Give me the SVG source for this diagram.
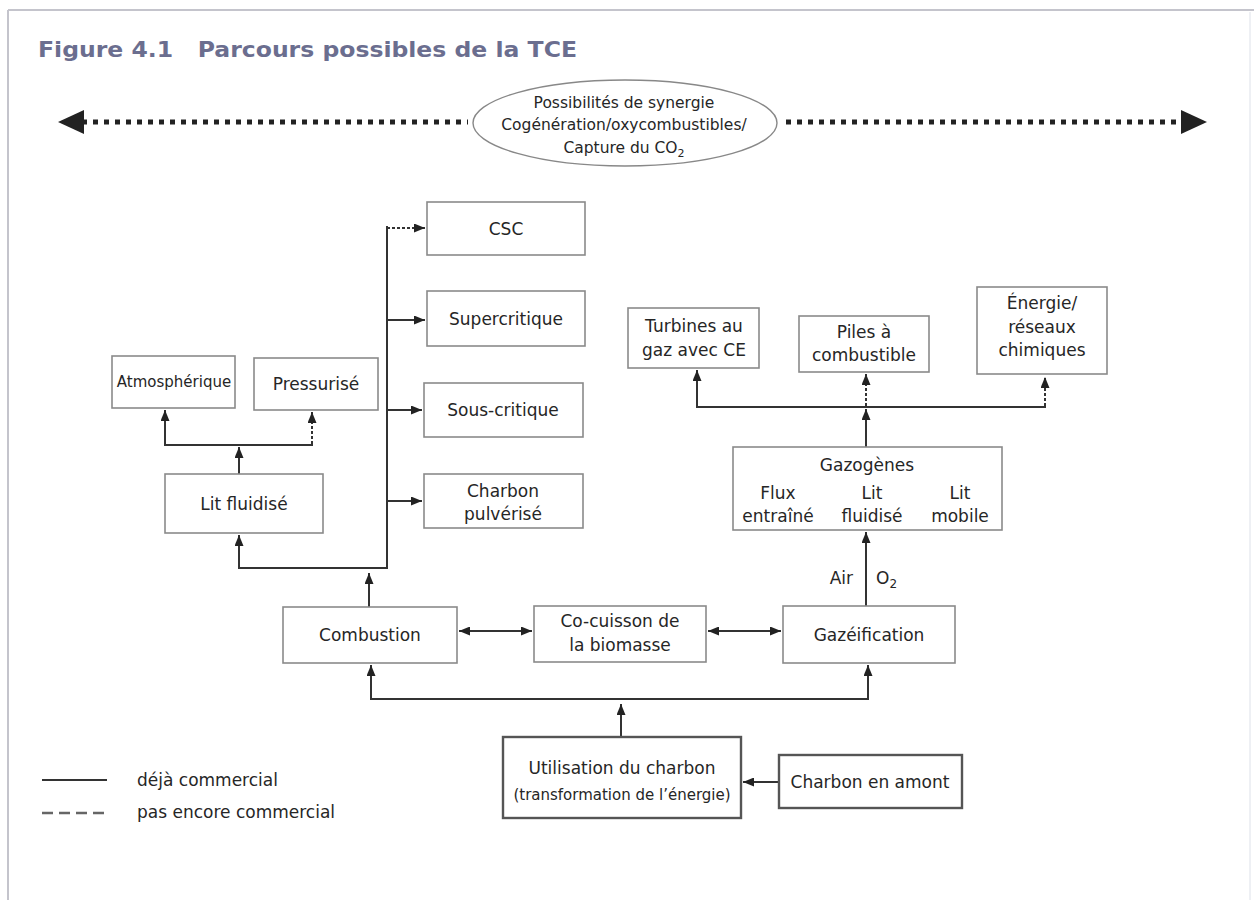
<svg xmlns="http://www.w3.org/2000/svg" width="1254" height="900" viewBox="0 0 1254 900">
<style>
.box{fill:#fff;stroke:#8a8a8a;stroke-width:1.6}
.boxd{fill:#fff;stroke:#555;stroke-width:2.4}
.t{font-family:"DejaVu Sans","Liberation Sans",sans-serif;font-size:17px;fill:#262626;text-anchor:middle}
.ts{font-size:15px}
.c{fill:none;stroke:#333;stroke-width:2}
.d{fill:none;stroke:#333;stroke-width:2;stroke-dasharray:3,2}
.dot{fill:none;stroke:#222;stroke-width:5;stroke-dasharray:5,6}
</style>
<defs>
<marker id="ah" markerUnits="userSpaceOnUse" markerWidth="11" markerHeight="9" viewBox="0 0 11 9" refX="11" refY="4.5" orient="auto-start-reverse">
<path d="M0,0 L11,4.5 L0,9 z" fill="#222"/>
</marker>
</defs>
<rect width="1254" height="900" fill="#fff"/>
<line x1="8" y1="10" x2="1254" y2="10" stroke="#c4c4cc" stroke-width="2"/>
<line x1="8" y1="10" x2="8" y2="900" stroke="#c4c4cc" stroke-width="2"/>
<line x1="1250" y1="12" x2="1250" y2="900" stroke="#eef0f4" stroke-width="2"/>
<text x="38" y="57" font-family="'DejaVu Sans','Liberation Sans',sans-serif" font-weight="bold" font-size="22" fill="#6b6e8f" textLength="539" lengthAdjust="spacingAndGlyphs" xml:space="preserve">Figure 4.1   Parcours possibles de la TCE</text>

<g id="synergie">
<ellipse cx="625" cy="123" rx="152" ry="43" fill="#fff" stroke="#888" stroke-width="1.4"/>
<text class="t" x="624" y="108" style="font-size:15.5px">Possibilités de synergie</text>
<text class="t" x="624" y="130" style="font-size:15.5px">Cogénération/oxycombustibles/</text>
<text class="t" x="624" y="153" style="font-size:15.5px">Capture du CO<tspan font-size="11" dy="4">2</tspan></text>
</g>

<g id="connectors">
<line class="dot" x1="82" y1="122" x2="468" y2="122"/>
<path d="M58,122 L84,110 L84,134 z" fill="#222"/>
<line class="dot" x1="786" y1="122" x2="1182" y2="122"/>
<path d="M1207,122 L1181,110 L1181,134 z" fill="#222"/>

<line class="c" x1="369" y1="607" x2="369" y2="573" marker-end="url(#ah)"/>
<polyline class="c" points="387,226 387,568 239,568 239,535" marker-end="url(#ah)"/>
<line class="d" x1="387" y1="228" x2="425" y2="228" marker-end="url(#ah)"/>
<line class="c" x1="387" y1="320" x2="425" y2="320" marker-end="url(#ah)"/>
<line class="c" x1="387" y1="410" x2="422" y2="410" marker-end="url(#ah)"/>
<line class="c" x1="387" y1="501" x2="422" y2="501" marker-end="url(#ah)"/>
<line class="c" x1="239" y1="474" x2="239" y2="447" marker-end="url(#ah)"/>
<line class="c" x1="164" y1="445" x2="313" y2="445"/>
<line class="c" x1="165" y1="446" x2="165" y2="410" marker-end="url(#ah)"/>
<line class="d" x1="312" y1="444" x2="312" y2="412" marker-end="url(#ah)"/>

<line class="c" x1="459" y1="631" x2="532" y2="631" marker-start="url(#ah)" marker-end="url(#ah)"/>
<line class="c" x1="708" y1="631" x2="781" y2="631" marker-start="url(#ah)" marker-end="url(#ah)"/>

<line class="c" x1="866" y1="606" x2="866" y2="532" marker-end="url(#ah)"/>
<line class="c" x1="866" y1="447" x2="866" y2="409" marker-end="url(#ah)"/>
<line class="c" x1="696" y1="407" x2="1046" y2="407"/>
<line class="c" x1="697" y1="408" x2="697" y2="370" marker-end="url(#ah)"/>
<line class="d" x1="866" y1="406" x2="866" y2="374" marker-end="url(#ah)"/>
<line class="d" x1="1045" y1="406" x2="1045" y2="377" marker-end="url(#ah)"/>

<line class="c" x1="621" y1="737" x2="621" y2="704" marker-end="url(#ah)"/>
<line class="c" x1="370" y1="699" x2="869" y2="699"/>
<line class="c" x1="371" y1="700" x2="371" y2="665" marker-end="url(#ah)"/>
<line class="c" x1="868" y1="700" x2="868" y2="665" marker-end="url(#ah)"/>
<line class="c" x1="779" y1="782" x2="743" y2="782" marker-end="url(#ah)"/>
</g>

<g id="csc"><rect class="box" x="427" y="202" width="158" height="53"/><text class="t" x="506" y="235">CSC</text></g>
<g id="supercritique"><rect class="box" x="427" y="291" width="158" height="55"/><text class="t" x="506" y="325">Supercritique</text></g>
<g id="souscritique"><rect class="box" x="424" y="383" width="159" height="54"/><text class="t" x="503" y="416">Sous-critique</text></g>
<g id="charbonpulverise"><rect class="box" x="424" y="474" width="159" height="54"/><text class="t" x="503" y="497">Charbon</text><text class="t" x="503" y="520">pulvérisé</text></g>
<g id="atmospherique"><rect class="box" x="112" y="356" width="123" height="52"/><text class="t ts" x="174" y="387">Atmosphérique</text></g>
<g id="pressurise"><rect class="box" x="254" y="358" width="124" height="52"/><text class="t" x="316" y="390">Pressurisé</text></g>
<g id="litfluidise"><rect class="box" x="165" y="474" width="158" height="59"/><text class="t" x="244" y="510">Lit fluidisé</text></g>
<g id="combustion"><rect class="box" x="283" y="607" width="174" height="56"/><text class="t" x="370" y="641">Combustion</text></g>
<g id="cocuisson"><rect class="box" x="534" y="606" width="172" height="56"/><text class="t" x="620" y="627">Co-cuisson de</text><text class="t" x="620" y="651">la biomasse</text></g>
<g id="gazeification"><rect class="box" x="783" y="606" width="172" height="57"/><text class="t" x="869" y="641">Gazéification</text></g>
<g id="gazogenes"><rect class="box" x="733" y="447" width="269" height="83"/>
<text class="t" x="867" y="471">Gazogènes</text>
<text class="t" x="778" y="499">Flux</text><text class="t" x="778" y="522">entraîné</text>
<text class="t" x="872" y="499">Lit</text><text class="t" x="872" y="522">fluidisé</text>
<text class="t" x="960" y="499">Lit</text><text class="t" x="960" y="522">mobile</text></g>
<g id="turbines"><rect class="box" x="628" y="308" width="131" height="60"/><text class="t" x="694" y="332">Turbines au</text><text class="t" x="694" y="356">gaz avec CE</text></g>
<g id="piles"><rect class="box" x="799" y="316" width="130" height="56"/><text class="t" x="864" y="338">Piles à</text><text class="t" x="864" y="361">combustible</text></g>
<g id="energie"><rect class="box" x="977" y="287" width="130" height="87"/><text class="t" x="1042" y="309">Énergie/</text><text class="t" x="1042" y="333">réseaux</text><text class="t" x="1042" y="356">chimiques</text></g>
<g id="utilisation"><rect class="boxd" x="503" y="737" width="238" height="81"/><text class="t" x="622" y="774">Utilisation du charbon</text><text class="t ts" x="622" y="800">(transformation de l’énergie)</text></g>
<g id="amont"><rect class="boxd" x="779" y="755" width="183" height="53"/><text class="t" x="870" y="788">Charbon en amont</text></g>

<g id="labels">
<text class="t" x="853" y="584" style="text-anchor:end">Air</text>
<text class="t" x="876" y="584" style="text-anchor:start">O<tspan font-size="12" dy="4">2</tspan></text>
</g>

<g id="legend">
<line x1="42" y1="780" x2="107" y2="780" stroke="#333" stroke-width="2"/>
<text class="t" x="137" y="786" style="text-anchor:start">déjà commercial</text>
<line x1="42" y1="813" x2="107" y2="813" stroke="#666" stroke-width="2.5" stroke-dasharray="11,6"/>
<text class="t" x="137" y="818" style="text-anchor:start">pas encore commercial</text>
</g>
</svg>
